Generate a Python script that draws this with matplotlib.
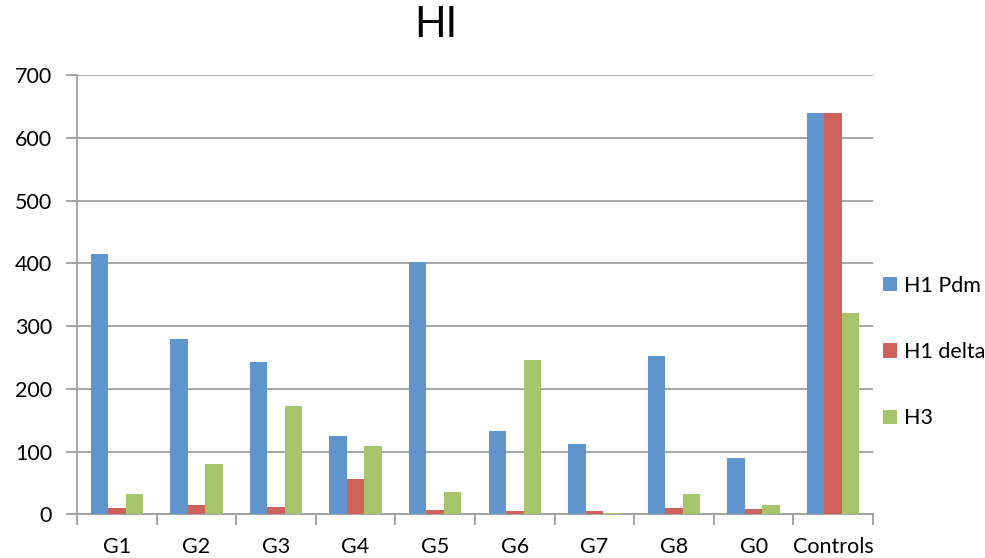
import numpy as np
import matplotlib
matplotlib.use("Agg")
import matplotlib.pyplot as plt

groups = ["G1", "G2", "G3", "G4", "G5", "G6", "G7", "G8", "G0", "Controls"]
h1_pdm = [415, 279, 242, 124, 402, 133, 112, 253, 90, 640]
h1_delta = [10, 15, 11, 56, 7, 6, 6, 10, 8, 640]
h3 = [33, 80, 172, 109, 35, 246, 2, 33, 15, 320]
series_names = ["H1 Pdm", "H1 delta", "H3"]
colors = ["#5F94CC", "#CD625C", "#A8C46B"]

plt.rcParams["font.family"] = ["Lato", "DejaVu Sans"]

fig = plt.figure(figsize=(9.85, 5.58), dpi=100)
ax = fig.add_axes([77 / 985, 1 - 514.3 / 558, 796 / 985, 439.3 / 558])

x = np.arange(len(groups))
w = 0.22
for i, (vals, name) in enumerate(zip([h1_pdm, h1_delta, h3], series_names)):
    ax.bar(x + (i - 1) * w, vals, w, color=colors[i], label=name, zorder=3)

ax.set_xlim(-0.5, len(groups) - 0.5)
ax.set_ylim(0, 700)
ax.set_yticks(range(0, 701, 100))
ax.yaxis.grid(True, color="#9e9e9e", linewidth=1.3, zorder=0)

# boundaries get tick marks, centers get the labels
ax.set_xticks(np.arange(len(groups) + 1) - 0.5)
ax.set_xticklabels([])
ax.set_xticks(x, minor=True)
ax.set_xticklabels(groups, minor=True)
ax.tick_params(axis="x", which="major", length=8, width=1.3, color="#9e9e9e")
ax.tick_params(axis="x", which="minor", length=0, pad=16, labelsize=15.5)
ax.tick_params(axis="y", length=8, width=1.3, color="#9e9e9e", labelsize=15.5, pad=10)

for s in ["top", "right"]:
    ax.spines[s].set_visible(False)
for s in ["left", "bottom"]:
    ax.spines[s].set_color("#9e9e9e")
    ax.spines[s].set_linewidth(1.3)

fig.text(0.442, 0.955, "HI", ha="center", va="center", fontsize=30)

ax.legend(loc="center left", bbox_to_anchor=(872 / 985, 1 - 352 / 558),
          bbox_transform=fig.transFigure, frameon=False, fontsize=15.5,
          handlelength=0.65, handleheight=0.65, handletextpad=0.35,
          labelspacing=2.15, borderpad=0)

fig.savefig("out.png", dpi=100)
